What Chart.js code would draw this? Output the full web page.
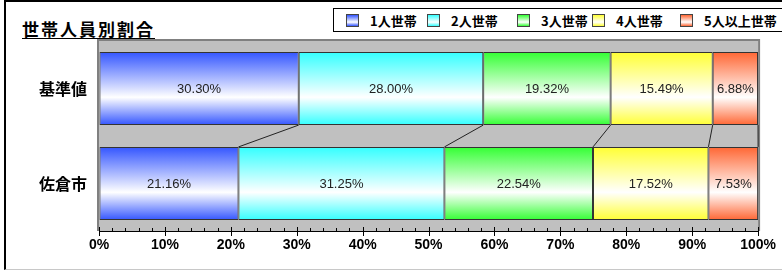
<!DOCTYPE html>
<html>
<head>
<meta charset="utf-8">
<script src="https://cdn.jsdelivr.net/npm/chart.js@4/dist/chart.umd.min.js"></script>
<style>
  body { margin: 0; width: 782px; height: 271px; overflow: hidden; background: #fff; position: relative; }
  #frame { position: absolute; left: 4px; top: 0; width: 820px; height: 267px; border-left: 2px solid #000; border-top: 2px solid #000; border-bottom: 1px solid #c8c8c8; }
  #title { position: absolute; left: 22px; top: 16px; font: bold 17px "Noto Sans CJK JP", sans-serif; letter-spacing: 2px; text-decoration: underline; text-underline-offset: 2px; color: #000; }
  #legend { position: absolute; left: 333px; top: 8px; width: 470px; height: 22px; border: 1px solid #000; }
  .item { position: absolute; top: 0; height: 22px; display: flex; align-items: center; font: bold 13px "Noto Sans CJK JP", sans-serif; color: #000; }
  .sw { width: 11px; height: 11px; border: 1px solid #444; margin-right: 11px; }
  canvas { position: absolute; left: 0; top: 0; }
</style>
</head>
<body>
<div id="frame"></div>
<div id="title">世帯人員別割合</div>
<div id="legend"></div>
<canvas id="chart" width="782" height="271"></canvas>
<script>
// data
const categories = ["基準値", "佐倉市"];
const seriesNames = ["1人世帯", "2人世帯", "3人世帯", "4人世帯", "5人以上世帯"];
const oneP = [30.30, 21.16];
const twoP = [28.00, 31.25];
const threeP = [19.32, 22.54];
const fourP = [15.49, 17.52];
const fiveP = [6.88, 7.53];
const xTicks = [0, 10, 20, 30, 40, 50, 60, 70, 80, 90, 100];

const colors = ["#3355ff", "#33ffff", "#33ff33", "#ffff33", "#ff6633"];
const values = [oneP, twoP, threeP, fourP, fiveP];
const catPct = 0.77;

// legend (html)
let legend = document.getElementById("legend");
let legendX = [12, 93, 183, 258, 346];
seriesNames.forEach((name, i) => {
  let it = document.createElement("div");
  it.className = "item";
  it.style.left = legendX[i] + "px";
  it.innerHTML = `<div class="sw" style="background:linear-gradient(to bottom, ${colors[i]} 0%, #fff 65%, ${colors[i]} 100%)"></div>${name}`;
  legend.appendChild(it);
});

function barGradient(color) {
  return (ctx) => {
    let chart = ctx.chart;
    let y = chart.scales.y;
    if (!y || !chart.chartArea || ctx.dataIndex === undefined) return color;
    let center = y.getPixelForValue(ctx.dataIndex);
    let step = Math.abs(y.getPixelForValue(1) - y.getPixelForValue(0));
    let h = step * catPct;
    let g = chart.ctx.createLinearGradient(0, center - h / 2, 0, center + h / 2);
    g.addColorStop(0, color);
    g.addColorStop(0.62, "#ffffff");
    g.addColorStop(1, color);
    return g;
  };
}

const plotDeco = {
  id: "plotDeco",
  beforeDatasetsDraw(chart) {
    let { ctx, chartArea: a } = chart;
    ctx.save();
    ctx.fillStyle = "#c0c0c0";
    ctx.fillRect(a.left, a.top, a.right - a.left, a.bottom - a.top);
    ctx.strokeStyle = "#808080";
    ctx.lineWidth = 2;
    ctx.beginPath();
    ctx.moveTo(a.left - 1, a.bottom);
    ctx.lineTo(a.left - 1, a.top - 1);
    ctx.lineTo(a.right + 1, a.top - 1);
    ctx.lineTo(a.right + 1, a.bottom);
    ctx.stroke();
    ctx.restore();
  },
  afterDatasetsDraw(chart) {
    let { ctx, chartArea: a } = chart;
    let x = chart.scales.x;
    ctx.save();
    // series lines
    ctx.strokeStyle = "#222";
    ctx.lineWidth = 1;
    chart.data.datasets.forEach((ds, i) => {
      let meta = chart.getDatasetMeta(i);
      let top = meta.data[0].getProps(["x", "y", "height"], true);
      let bot = meta.data[1].getProps(["x", "y", "height"], true);
      ctx.beginPath();
      ctx.moveTo(top.x, top.y + top.height / 2);
      ctx.lineTo(bot.x, bot.y - bot.height / 2);
      ctx.stroke();
    });
    // value labels
    ctx.fillStyle = "#222";
    ctx.font = "13px 'Liberation Sans', Arial, sans-serif";
    ctx.textAlign = "center";
    ctx.textBaseline = "middle";
    chart.data.datasets.forEach((ds, i) => {
      let meta = chart.getDatasetMeta(i);
      meta.data.forEach((el, j) => {
        let p = el.getProps(["x", "y", "base"], true);
        ctx.fillText(ds.data[j].toFixed(2) + "%", (p.x + p.base) / 2, p.y + 1);
      });
    });
    // inward ticks
    ctx.strokeStyle = "#000";
    for (let v = 0; v <= 100; v += 2) {
      let px = Math.round(x.getPixelForValue(v)) + 0.5;
      let major = v % 10 === 0;
      ctx.beginPath();
      ctx.moveTo(px, a.bottom - (major ? 4 : 3));
      ctx.lineTo(px, a.bottom + (major ? 5 : 0));
      ctx.stroke();
    }
    ctx.restore();
  },
};

const ctx = document.getElementById("chart");
const myChart = new Chart(ctx, {
  type: "bar",
  data: {
    labels: categories,
    datasets: seriesNames.map((name, i) => ({
      label: name,
      data: values[i],
      backgroundColor: barGradient(colors[i]),
      borderColor: "#333",
      borderWidth: 1,
      borderSkipped: false,
      barPercentage: 1,
      categoryPercentage: catPct,
    })),
  },
  options: {
    indexAxis: "y",
    responsive: false,
    devicePixelRatio: 1,
    animation: false,
    layout: { padding: { left: 0, right: 19, top: 41, bottom: 0 } },
    plugins: { legend: { display: false }, title: { display: false }, tooltip: { enabled: false } },
    scales: {
      x: {
        stacked: true,
        min: 0,
        max: 100,
        afterBuildTicks: (s) => { s.ticks = xTicks.map((v) => ({ value: v })); },
        afterFit: (s) => { s.height = 40; },
        grid: { drawOnChartArea: false, drawTicks: false },
        border: { display: true, color: "#000", width: 1 },
        ticks: {
          callback: (v) => v + "%",
          padding: 6,
          maxRotation: 0,
          autoSkip: false,
          color: "#000",
          font: { family: "'Liberation Sans Narrow', 'Liberation Sans', Arial", weight: "bold", size: 14 },
        },
      },
      y: {
        stacked: true,
        afterFit: (s) => { s.width = 99; },
        grid: { display: false },
        border: { display: false },
        ticks: {
          padding: 4,
          color: "#000",
          font: { family: "'Noto Sans CJK JP', sans-serif", weight: "bold", size: 16 },
        },
      },
    },
  },
  plugins: [plotDeco],
});
</script>
</body>
</html>
